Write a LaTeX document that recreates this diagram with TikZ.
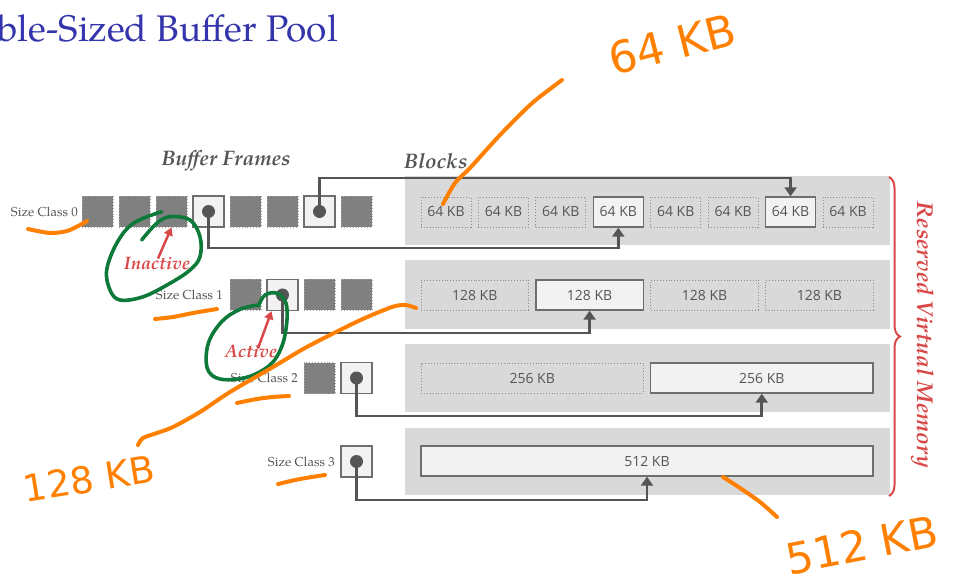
\documentclass[tikz,border=0pt]{standalone}
\usepackage{fontspec}
\setmainfont{TeX Gyre Pagella}
\newfontfamily\blk{Open Sans}
\newfontfamily\hand{DejaVu Sans}
\usetikzlibrary{arrows.meta,decorations.pathreplacing,calc}
\definecolor{titleblue}{RGB}{52,52,172}
\definecolor{bandc}{RGB}{217,217,217}
\definecolor{darkfr}{RGB}{128,128,128}
\definecolor{dotbord}{RGB}{165,165,165}
\definecolor{lightfill}{RGB}{242,242,242}
\definecolor{liveedge}{RGB}{110,110,110}
\definecolor{idleedge}{RGB}{140,140,140}
\definecolor{connc}{RGB}{85,85,85}
\definecolor{txtc}{RGB}{85,85,85}
\definecolor{redc}{RGB}{217,72,72}
\definecolor{orng}{RGB}{255,128,0}
\definecolor{grn}{RGB}{14,122,58}
\begin{document}
\begin{tikzpicture}[x=1pt,y=-1pt,
  bandbox/.style={fill=bandc,draw=none,inner sep=0pt,anchor=north west,minimum width=485pt},
  idleframe/.style={fill=darkfr,draw=dotbord,dotted,line width=0.9pt,minimum width=31pt,minimum height=31pt,inner sep=0pt},
  liveframe/.style={fill=lightfill,draw=liveedge,line width=1.4pt,minimum width=31pt,minimum height=31pt,inner sep=0pt},
  dotmark/.style={circle,fill=connc,minimum size=13pt,inner sep=0pt},
  idleblock/.style={fill=bandc,draw=idleedge,dotted,line width=0.9pt,minimum height=30pt,inner sep=0pt,text=txtc,font=\blk\fontsize{14}{16}\selectfont},
  liveblock/.style={fill=lightfill,draw=liveedge,line width=1.4pt,minimum height=30pt,inner sep=0pt,text=txtc,font=\blk\fontsize{14}{16}\selectfont},
  link/.style={draw=connc,line width=2.8pt,line join=miter,-{Triangle[width=12pt,length=9pt]}},
  sclabel/.style={anchor=east,inner sep=0pt,text=txtc,font=\fontsize{13}{15}\selectfont},
  headlbl/.style={inner sep=0pt,text=txtc,font=\bfseries\itshape\fontsize{21}{25}\selectfont},
  redlbl/.style={inner sep=0pt,text=redc,font=\bfseries\itshape\fontsize{18}{21}\selectfont},
  redarrow/.style={draw=redc,line width=2.5pt,-{Triangle[width=9pt,length=8pt]}},
  orpen/.style={draw=orng,line width=4pt,line cap=round,line join=round},
  grpen/.style={draw=grn,line width=3.6pt,line cap=round,line join=round},
  handtxt/.style={inner sep=0pt,text=orng,font=\hand}
]
\useasboundingbox (0,0) rectangle (956,585);

% title
\node[anchor=base east,inner sep=0pt,text=titleblue,font=\fontsize{37}{40}\selectfont] (title) at (338,42) {ble-Sized Buffer Pool};

% headers
\node[headlbl] (hframes) at (226,161) {Buffer Frames};
\node[headlbl,anchor=west] (hblocks) at (404,161) {Blocks};

% bands
\node[bandbox,minimum height=69pt] (band0) at (405,176) {};
\node[bandbox,minimum height=69pt] (band1) at (405,260) {};
\node[bandbox,minimum height=68pt] (band2) at (405,344) {};
\node[bandbox,minimum height=67pt] (band3) at (405,428) {};

% frames row 0
\foreach \i/\s in {1/idleframe,2/idleframe,3/idleframe,4/liveframe,5/idleframe,6/idleframe,7/liveframe,8/idleframe}
  \node[\s] (f0\i) at ({60.5+37*\i},211.5) {};
% frames row 1
\foreach \i/\s in {5/idleframe,6/liveframe,7/idleframe,8/idleframe}
  \node[\s] (f1\i) at ({60.5+37*\i},295) {};
% frames row 2
\node[idleframe] (f27) at (319.5,378) {};
\node[liveframe] (f28) at (356.5,378) {};
% frames row 3
\node[liveframe] (f38) at (356.5,461.5) {};

% labels
\node[sclabel] (sc0) at (78,211.5) {Size Class 0};
\node[sclabel] (sc1) at (223,295) {Size Class 1};
\node[sclabel] (sc2) at (298,378) {Size Class 2};
\node[sclabel] (sc3) at (335,461.5) {Size Class 3};

% blocks
\foreach \i/\s in {0/idleblock,1/idleblock,2/idleblock,3/liveblock,4/idleblock,5/idleblock,6/liveblock,7/idleblock}
  \node[\s,minimum width=50pt] (b0\i) at ({446+57.43*\i},212) {64 KB};
\foreach \i/\s in {0/idleblock,1/liveblock,2/idleblock,3/idleblock}
  \node[\s,minimum width=107.4pt] (b1\i) at ({474.7+114.9*\i},295) {128 KB};
\node[idleblock,minimum width=222.5pt] (b20) at (532.25,378) {256 KB};
\node[liveblock,minimum width=222.5pt] (b21) at (761.75,378) {256 KB};
\node[liveblock,minimum width=452pt] (b30) at (647,461) {512 KB};

% bend levels
\coordinate (lv0a) at (0,248);
\coordinate (lv0b) at (0,178);
\coordinate (lv1) at (0,333);
\coordinate (lv2) at (0,416);
\coordinate (lv3) at (0,500);

% connectors
\draw[link] (f04.center) -- (f04.center |- lv0a) -| (b03.south);
\draw[link] (f07.center) -- (f07.center |- lv0b) -| (b06.north);
\draw[link] (f16.center) -- (f16.center |- lv1) -| (b11.south);
\draw[link] (f28.center) -- (f28.center |- lv2) -| (b21.south);
\draw[link] (f38.center) -- (f38.center |- lv3) -| (b30.south);

% dots
\node[dotmark] (d04) at (f04.center) {};
\node[dotmark] (d07) at (f07.center) {};
\node[dotmark] (d16) at (f16.center) {};
\node[dotmark] (d28) at (f28.center) {};
\node[dotmark] (d38) at (f38.center) {};

% brace and reserved label
\coordinate (brtop) at (889,177);
\coordinate (brbot) at (889,496);
\draw[draw=redc,line width=2pt,decorate,decoration={brace,amplitude=11pt}] (brtop) -- (brbot);
\node[redlbl,rotate=-90,font=\bfseries\itshape\fontsize{23}{26}\selectfont] (rvm) at (923,335) {Reserved Virtual Memory};

% inactive / active
\node[redlbl] (inact) at (157,264) {Inactive};
\node[redlbl] (act) at (251,352) {Active};
\draw[redarrow] ([xshift=1pt,yshift=-1pt]inact.north) -- (f03.south);
\draw[redarrow] ([xshift=7pt,yshift=-3pt]act.north) -- ([xshift=-11pt]f16.south);

% green loops
\draw[grpen] plot[smooth,tension=0.6] coordinates {(141.7,240) (156.7,223.3) (170,216.7) (190,220) (200,236.7) (200,256.7) (190,270) (170,283.3) (143.3,296.7) (120,300) (110,290) (106.7,270) (116.7,243.3) (133.3,223.3) (161.7,211.7)};
\draw[grpen] plot[smooth,tension=0.6] coordinates {(258.3,306) (265,295) (277.3,293.3) (286,303.3) (286.7,323.3) (281.7,346.7) (270,365) (246.7,377.3) (220,379) (207.3,368.3) (208.3,343.3) (221.7,321.7) (240,309.3) (258.3,305)};

% orange underlines
\draw[orpen] plot[smooth] coordinates {(28,229) (50,233) (67,231) (80,225) (87,221)};
\draw[orpen] plot[smooth] coordinates {(155,319) (173,317) (193,313) (217,309)};
\draw[orpen] plot[smooth] coordinates {(237,403) (257,399) (273,397) (289,396)};
\draw[orpen] plot[smooth] coordinates {(278,484) (300,479) (325,475)};

% orange pointer strokes
\draw[orpen] plot[smooth] coordinates {(443,204) (455,183) (470,168) (500,135) (530,105) (550,89) (562,80)};
\draw[orpen] plot[smooth] coordinates {(416,308) (405,305) (392,307) (365,318) (340,330) (305,348) (273,367) (230,392) (200,412) (173,427) (157,433) (143,438) (138,445)};
\draw[orpen] plot[smooth] coordinates {(723,477) (740,488) (760,502) (777,517)};

% handwritten notes
\node[handtxt,rotate=14,font=\hand\fontsize{44}{48}\selectfont] (n64) at (672,44) {64 KB};
\node[handtxt,rotate=9,font=\hand\fontsize{37}{40}\selectfont] (n128) at (89,479) {128 KB};
\node[handtxt,rotate=11,font=\hand\fontsize{43}{46}\selectfont] (n512) at (862,545) {512 KB};
\end{tikzpicture}
\end{document}
